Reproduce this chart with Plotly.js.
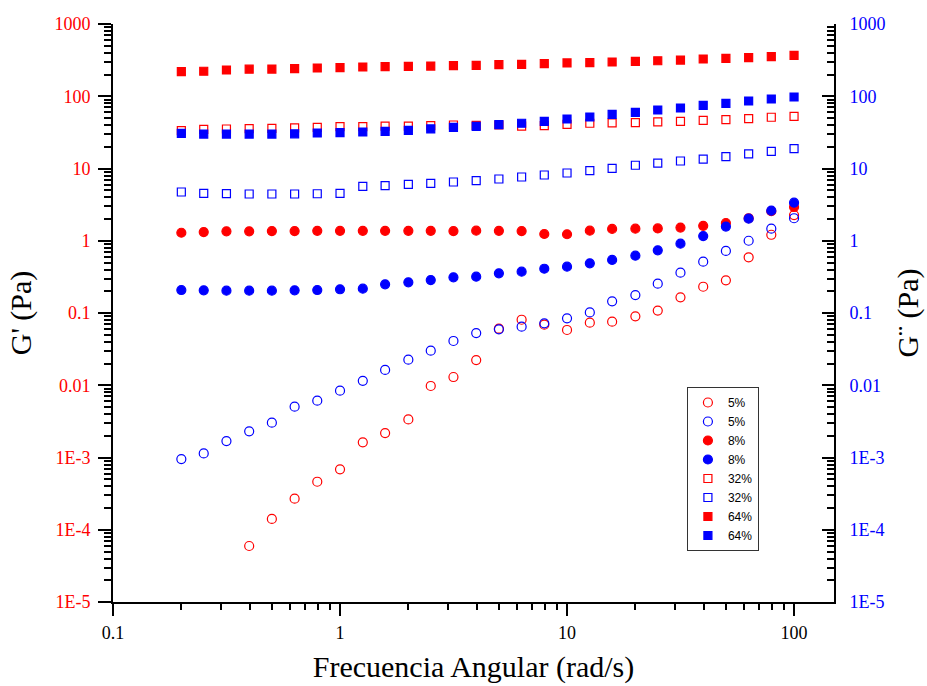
<!DOCTYPE html>
<html>
<head>
<meta charset="utf-8">
<script src="https://cdn.plot.ly/plotly-3.0.1.min.js"></script>
<style>html,body{margin:0;padding:0;background:#fff;}#chart{width:927px;height:686px;}</style>
</head>
<body>
<div id="chart"></div>
<script>
// Angular frequency (rad/s)
const freq = [0.2, 0.251, 0.316, 0.398, 0.501, 0.631, 0.794, 1, 1.26, 1.58, 2, 2.51, 3.16, 3.98, 5.01, 6.31, 7.94, 10, 12.6, 15.8, 20, 25.1, 31.6, 39.8, 50.1, 63.1, 79.4, 100];

// G' (red, left axis) and G'' (blue, right axis)
const g1_5  = [null, null, null, 5.96e-5, 1.41e-4, 2.69e-4, 4.62e-4, 6.86e-4, 1.62e-3, 2.18e-3, 3.37e-3, 9.77e-3, 0.013, 0.0223, 0.0607, 0.0807, 0.0689, 0.0582, 0.0735, 0.0758, 0.09, 0.108, 0.165, 0.231, 0.283, 0.59, 1.21, 2.27];
const g2_5  = [9.5e-4, 1.14e-3, 1.69e-3, 2.30e-3, 3.03e-3, 5.05e-3, 6.12e-3, 8.4e-3, 0.0115, 0.0163, 0.0226, 0.0301, 0.041, 0.0528, 0.0594, 0.0646, 0.072, 0.0844, 0.102, 0.145, 0.177, 0.255, 0.361, 0.513, 0.722, 1.0, 1.47, 2.05];
const g1_8  = [1.29, 1.32, 1.35, 1.35, 1.36, 1.36, 1.37, 1.37, 1.37, 1.37, 1.37, 1.37, 1.36, 1.38, 1.37, 1.36, 1.24, 1.23, 1.38, 1.46, 1.47, 1.48, 1.52, 1.61, 1.76, 2.05, 2.56, 2.93];
const g2_8  = [0.208, 0.206, 0.204, 0.204, 0.204, 0.206, 0.208, 0.213, 0.217, 0.249, 0.266, 0.286, 0.312, 0.318, 0.354, 0.373, 0.41, 0.438, 0.487, 0.542, 0.621, 0.736, 0.911, 1.16, 1.57, 2.02, 2.61, 3.36];
const g1_32 = [33.4, 34.8, 35.2, 35.6, 36.0, 36.4, 37.2, 37.9, 37.9, 38.7, 38.7, 39.1, 40.0, 39.6, 40.0, 38.7, 39.3, 40.8, 42.3, 42.7, 43.1, 44.1, 45.0, 46.4, 47.4, 49.0, 51.2, 52.8];
const g2_32 = [4.73, 4.54, 4.49, 4.44, 4.44, 4.44, 4.47, 4.54, 5.66, 5.78, 6.04, 6.24, 6.5, 6.78, 7.16, 7.63, 8.13, 8.66, 9.33, 10.07, 11.1, 11.9, 12.7, 13.5, 14.6, 15.9, 17.3, 18.8];
const g1_64 = [219, 222, 231, 237, 238, 241, 246, 249, 254, 257, 259, 262, 265, 268, 274, 277, 283, 289, 292, 298, 304, 310, 317, 328, 335, 342, 353, 369];
const g2_64 = [30.7, 30.0, 30.0, 30.0, 30.0, 30.2, 31.0, 31.3, 32.0, 32.7, 33.8, 35.3, 37.2, 38.4, 40.5, 42.3, 45.0, 48.4, 51.6, 56.2, 60, 64.5, 68.8, 75, 79.8, 85.9, 91.6, 97.7];

const seriesNames = ['5%', '5%', '8%', '8%', '32%', '32%', '64%', '64%'];
const yTickVals = [1e-5, 1e-4, 1e-3, 0.01, 0.1, 1, 10, 100, 1000];
const yTickText = ['1E-5', '1E-4', '1E-3', '0.01', '0.1', '1', '10', '100', '1000'];
const xTickVals = [0.1, 1, 10, 100];
const xTickText = ['0.1', '1', '10', '100'];

const RED = '#ff0000', BLUE = '#0000ff';
function minorVals(lo, hi) {
  const v = [];
  for (let e = lo; e < hi; e++) for (let d = 2; d <= 9; d++) v.push(d * Math.pow(10, e));
  return v;
}

const defs = [
  {y: g1_5,  c: RED,  s: 'circle-open', ax: 'y'},
  {y: g2_5,  c: BLUE, s: 'circle-open', ax: 'y2'},
  {y: g1_8,  c: RED,  s: 'circle', ax: 'y'},
  {y: g2_8,  c: BLUE, s: 'circle', ax: 'y2'},
  {y: g1_32, c: RED,  s: 'square-open', ax: 'y'},
  {y: g2_32, c: BLUE, s: 'square-open', ax: 'y2'},
  {y: g1_64, c: RED,  s: 'square', ax: 'y'},
  {y: g2_64, c: BLUE, s: 'square', ax: 'y2'}
];
const traces = defs.map((d, i) => ({
  x: freq, y: d.y, name: seriesNames[i], type: 'scatter', mode: 'markers', yaxis: d.ax,
  marker: {symbol: d.s, color: d.c, size: d.s.indexOf('square') === 0 ? 8 : 9, line: {color: d.c, width: 1.2}}
}));

const serif = 'Liberation Serif, Times New Roman, serif';
const yCommon = {
  type: 'log', range: [-5, 3], tickmode: 'array', tickvals: yTickVals, ticktext: yTickText,
  showgrid: false, zeroline: false, showline: true, linecolor: '#000', linewidth: 2,
  tickwidth: 2, ticklen: 13, tickcolor: '#000',
  minor: {tickmode: 'array', tickvals: minorVals(-5, 3), ticklen: 7, tickwidth: 2, tickcolor: '#000', showgrid: false}
};

const layout = {
  width: 927, height: 686,
  margin: {l: 113, r: 93, t: 24, b: 84},
  paper_bgcolor: '#fff', plot_bgcolor: '#fff',
  showlegend: true,
  xaxis: {
    type: 'log', range: [-1, 2.176], tickmode: 'array', tickvals: xTickVals, ticktext: xTickText,
    showgrid: false, zeroline: false, showline: true, linecolor: '#000', linewidth: 2,
    ticks: 'outside', tickwidth: 2, ticklen: 12, tickcolor: '#000', ticklabelstandoff: 1,
    tickfont: {family: serif, size: 18, color: '#000'},
    minor: {tickmode: 'array', tickvals: minorVals(-1, 3), ticks: 'outside', ticklen: 6, tickwidth: 2, tickcolor: '#000', showgrid: false},
    title: {text: 'Frecuencia Angular (rad/s)', font: {family: serif, size: 30, color: '#000'}, standoff: 14}
  },
  yaxis: Object.assign({}, yCommon, {
    side: 'left', ticks: 'outside', ticklabelstandoff: 4,
    minor: Object.assign({}, yCommon.minor, {ticks: 'outside'}),
    tickfont: {family: serif, size: 18, color: RED},
    title: {text: "G' (Pa)", font: {family: serif, size: 30, color: '#000'}, standoff: 14}
  }),
  yaxis2: Object.assign({}, yCommon, {
    side: 'right', overlaying: 'y', ticks: 'inside', ticklen: 12, ticklabelstandoff: 10,
    minor: Object.assign({}, yCommon.minor, {ticks: 'inside'}),
    tickfont: {family: serif, size: 18, color: BLUE},
    title: {text: 'G\u00A8 (Pa)', font: {family: serif, size: 30, color: '#000'}, standoff: 12}
  }),
  legend: {
    x: 0.796, y: 0.372, xanchor: 'left', yanchor: 'top',
    bgcolor: '#fff', bordercolor: '#333', borderwidth: 1,
    font: {family: 'Liberation Sans, Arial, sans-serif', size: 12, color: '#000'},
    tracegroupgap: 0, itemwidth: 30
  }
};

Plotly.newPlot('chart', traces, layout, {displayModeBar: false, staticPlot: true});
</script>
</body>
</html>
